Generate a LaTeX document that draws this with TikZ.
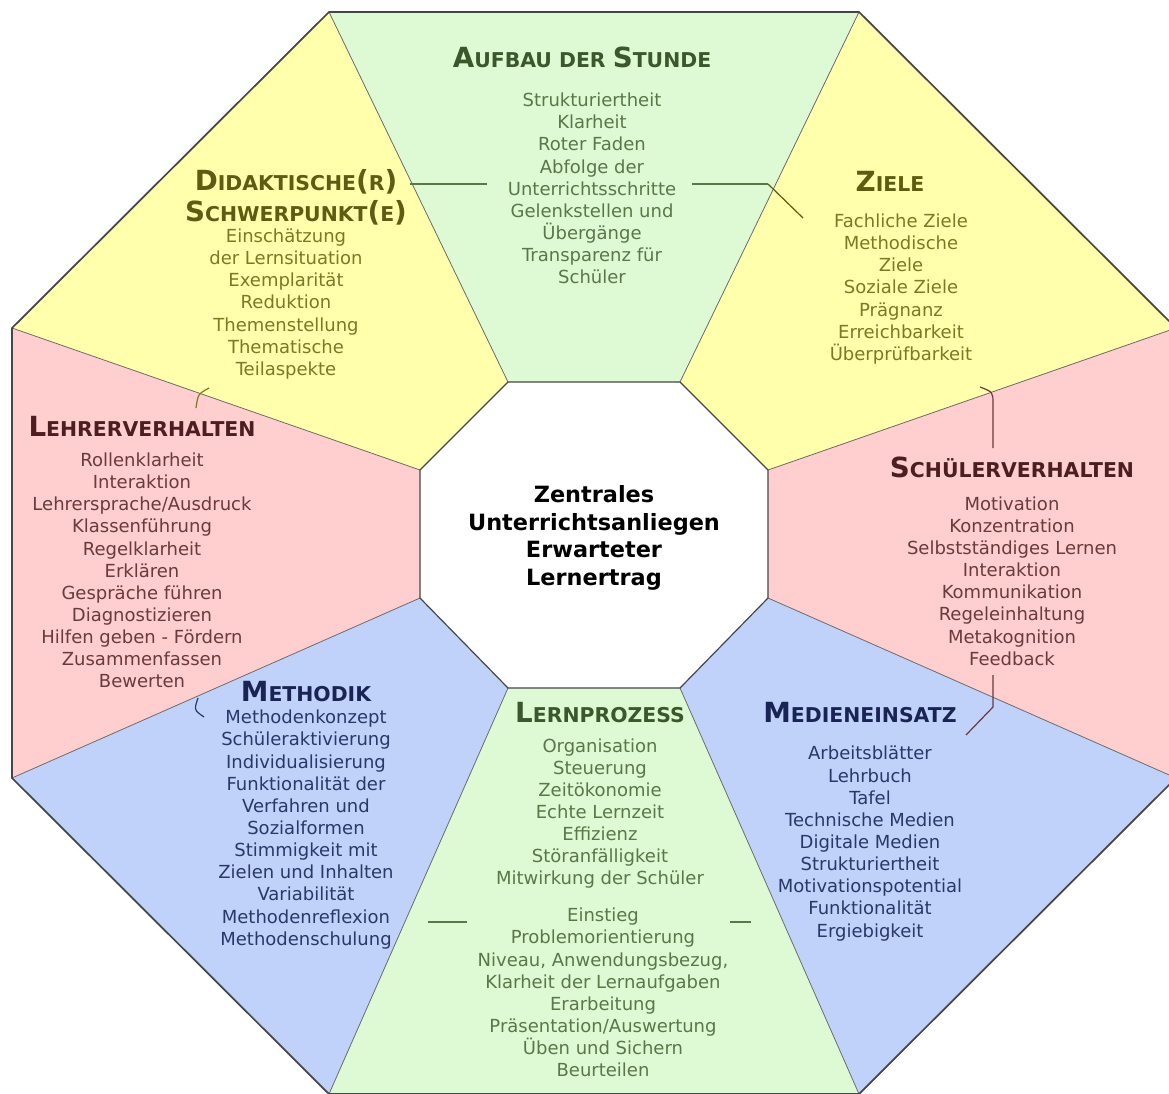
\documentclass[tikz,border=0pt]{standalone}
\usepackage{fontspec}
\setmainfont{DejaVu Sans}
\definecolor{sgreen}{RGB}{221,250,212}
\definecolor{syellow}{RGB}{255,255,172}
\definecolor{spink}{RGB}{255,206,206}
\definecolor{sblue}{RGB}{193,210,250}
\definecolor{tgreen}{RGB}{58,88,44}
\definecolor{igreen}{RGB}{88,120,74}
\definecolor{tyellow}{RGB}{92,92,18}
\definecolor{iyellow}{RGB}{122,122,36}
\definecolor{tpink}{RGB}{76,30,34}
\definecolor{ipink}{RGB}{106,58,62}
\definecolor{tblue}{RGB}{26,36,84}
\definecolor{iblue}{RGB}{42,56,104}
\definecolor{edge}{RGB}{70,70,70}
\newcommand\Tb[1]{{\fontsize{20.8pt}{23.25pt}\selectfont #1}}
\newcommand\Ts[1]{{\fontsize{15.3pt}{23.25pt}\selectfont #1}}
\begin{document}
\begin{tikzpicture}[x=0.75pt,y=-0.75pt,
  items/.style={align=center, inner sep=0pt, font=\fontsize{13.5pt}{16.6pt}\selectfont},
  ttl/.style={align=center, inner sep=0pt, font=\fontsize{15.3pt}{23.25pt}\selectfont\bfseries},
  divider/.style={draw=edge!80, line width=0.6pt},
  deco/.style={line width=0.9pt}]
\useasboundingbox (0,0) rectangle (1169,1093);
\fill[white] (0,0) rectangle (1169,1093);
% outer vertices
\coordinate (O1) at (329,12);
\coordinate (O2) at (859,12);
\coordinate (O3) at (1176,328);
\coordinate (O4) at (1176,778);
\coordinate (O5) at (859,1094);
\coordinate (O6) at (329,1094);
\coordinate (O7) at (12,778);
\coordinate (O8) at (12,328);
% inner vertices
\coordinate (I1) at (508,382);
\coordinate (I2) at (680,382);
\coordinate (I3) at (768,470);
\coordinate (I4) at (768,598);
\coordinate (I5) at (680,688);
\coordinate (I6) at (508,688);
\coordinate (I7) at (420,598);
\coordinate (I8) at (420,470);
% sectors
\fill[sgreen]  (O1)--(O2)--(I2)--(I1)--cycle;
\fill[syellow] (O2)--(O3)--(I3)--(I2)--cycle;
\fill[spink]   (O3)--(O4)--(I4)--(I3)--cycle;
\fill[sblue]   (O4)--(O5)--(I5)--(I4)--cycle;
\fill[sgreen]  (O5)--(O6)--(I6)--(I5)--cycle;
\fill[sblue]   (O6)--(O7)--(I7)--(I6)--cycle;
\fill[spink]   (O7)--(O8)--(I8)--(I7)--cycle;
\fill[syellow] (O8)--(O1)--(I1)--(I8)--cycle;
% dividers
\foreach \k in {1,...,8} { \draw[divider] (O\k) -- (I\k); }
% inner octagon
\draw[edge, line width=0.9pt, fill=white] (I1)--(I2)--(I3)--(I4)--(I5)--(I6)--(I7)--(I8)--cycle;
% outer octagon
\draw[edge, line width=1.3pt, line join=round] (O1)--(O2)--(O3)--(O4)--(O5)--(O6)--(O7)--(O8)--cycle;

% center
\node[align=center, inner sep=0pt, font=\fontsize{16.8pt}{20.6pt}\selectfont\bfseries] (center) at (594,538)
  {Zentrales\\Unterrichtsanliegen\\Erwarteter\\Lernertrag};

% Aufbau der Stunde
\node[ttl, text=tgreen] (aufbauT) at (582,57) {\Tb{A}\Ts{UFBAU DER }\Tb{S}\Ts{TUNDE}};
\node[items, text=igreen] (aufbau) at (592,188.5)
  {Strukturiertheit\\Klarheit\\Roter Faden\\Abfolge der\\Unterrichtsschritte\\Gelenkstellen und\\Übergänge\\Transparenz für\\Schüler};

% Ziele
\node[ttl, text=tyellow] (zieleT) at (890,181) {\Tb{Z}\Ts{IELE}};
\node[items, text=iyellow] (ziele) at (901,289)
  {Fachliche Ziele\\Methodische\\Ziele\\Soziale Ziele\\Prägnanz\\Erreichbarkeit\\Überprüfbarkeit};

% Didaktische Schwerpunkte
\node[ttl, text=tyellow] (didT) at (296,197)
  {\Tb{D}\Ts{IDAKTISCHE}\Tb{(}\Ts{R}\Tb{)}\\\Tb{S}\Ts{CHWERPUNKT}\Tb{(}\Ts{E}\Tb{)}};
\node[items, text=iyellow] (did) at (286,304)
  {Einschätzung\\der Lernsituation\\Exemplarität\\Reduktion\\Themenstellung\\Thematische\\Teilaspekte};

% Lehrerverhalten
\node[ttl, text=tpink] (lehrerT) at (142,426) {\Tb{L}\Ts{EHRERVERHALTEN}};
\node[items, text=ipink] (lehrer) at (142,570.5)
  {Rollenklarheit\\Interaktion\\Lehrersprache/Ausdruck\\Klassenführung\\Regelklarheit\\Erklären\\Gespräche führen\\Diagnostizieren\\Hilfen geben - Fördern\\Zusammenfassen\\Bewerten};

% Schuelerverhalten
\node[ttl, text=tpink] (schuelerT) at (1012,467) {\Tb{S}\Ts{CHÜLERVERHALTEN}};
\node[items, text=ipink] (schueler) at (1012,581)
  {Motivation\\Konzentration\\Selbstständiges Lernen\\Interaktion\\Kommunikation\\Regeleinhaltung\\Metakognition\\Feedback};

% Methodik
\node[ttl, text=tblue] (methT) at (306,692) {\Tb{M}\Ts{ETHODIK}};
\node[items, text=iblue] (meth) at (306,829.5)
  {Methodenkonzept\\Schüleraktivierung\\Individualisierung\\Funktionalität der\\Verfahren und\\Sozialformen\\Stimmigkeit mit\\Zielen und Inhalten\\Variabilität\\Methodenreflexion\\Methodenschulung};

% Medieneinsatz
\node[ttl, text=tblue] (medT) at (860,713) {\Tb{M}\Ts{EDIENEINSATZ}};
\node[items, text=iblue] (med) at (870,843.5)
  {Arbeitsblätter\\Lehrbuch\\Tafel\\Technische Medien\\Digitale Medien\\Strukturiertheit\\Motivationspotential\\Funktionalität\\Ergiebigkeit};

% Lernprozess
\node[ttl, text=tgreen] (lernT) at (600,713) {\Tb{L}\Ts{ERNPROZESS}};
\node[items, text=igreen] (lernA) at (600,813.5)
  {Organisation\\Steuerung\\Zeitökonomie\\Echte Lernzeit\\Effizienz\\Störanfälligkeit\\Mitwirkung der Schüler};
\node[items, text=igreen] (lernB) at (603,992.5)
  {Einstieg\\Problemorientierung\\Niveau, Anwendungsbezug,\\Klarheit der Lernaufgaben\\Erarbeitung\\Präsentation/Auswertung\\Üben und Sichern\\Beurteilen};

% decorative connector strokes
\coordinate (a1) at (410,184); \coordinate (a2) at (487,184);
\coordinate (a3) at (692,184); \coordinate (a4) at (768,184); \coordinate (a5) at (803,218);
\draw[deco, igreen] (a1) -- (a2);
\draw[deco, igreen] (a3) -- (a4);
\draw[deco, tyellow] (a4) -- (a5);
\coordinate (d1) at (209,388); \coordinate (d2) at (196,408);
\draw[deco, iyellow] (d1) .. controls (198,394) .. (d2);
\coordinate (z1) at (980,387); \coordinate (z2) at (993,448);
\draw[deco, ipink] (z1) .. controls (993,392) .. (993,404) -- (z2);
\coordinate (s1) at (993,675); \coordinate (s2) at (993,707); \coordinate (s3) at (966,735);
\draw[deco, ipink] (s1) -- (s2) -- (s3);
\coordinate (l1) at (198,698); \coordinate (l2) at (204,717);
\draw[deco, iblue] (l1) .. controls (194,710) .. (l2);
\coordinate (p1) at (428,922); \coordinate (p2) at (467,922);
\coordinate (p3) at (730,922); \coordinate (p4) at (751,922);
\draw[deco, igreen] (p1) -- (p2);
\draw[deco, igreen] (p3) -- (p4);
\end{tikzpicture}
\end{document}
